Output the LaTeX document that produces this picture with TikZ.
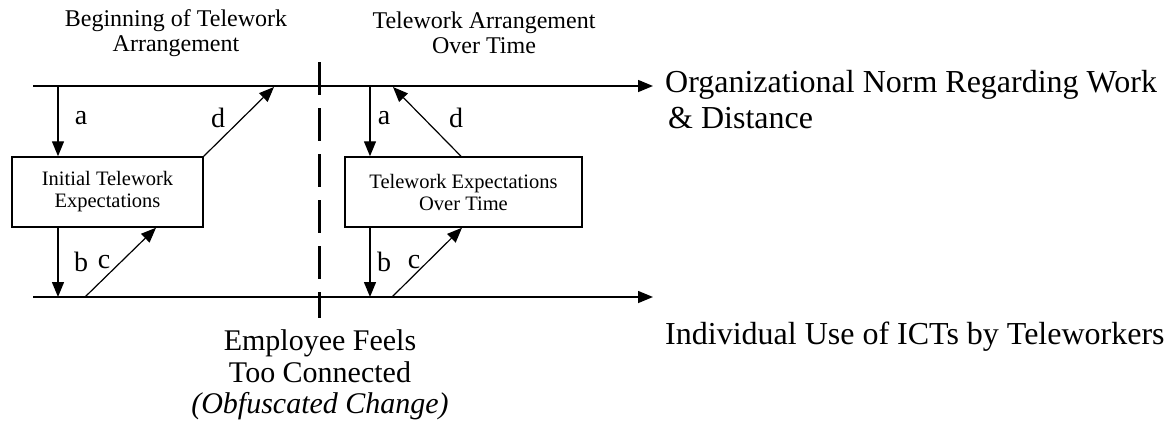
\documentclass[tikz,border=0pt]{standalone}
\usepackage{fontspec}
\setmainfont{Liberation Serif}
\usetikzlibrary{arrows.meta}
\begin{document}
\begin{tikzpicture}[x=1pt,y=-1pt,
  axis/.style={line width=1.5pt,-{Triangle[length=15pt,width=12pt]}},
  arr/.style={line width=1.4pt,-{Triangle[length=15pt,width=12pt]}},
  darr/.style={line width=1.2pt,-{Triangle[length=15pt,width=12pt]}},
  expbox/.style={draw,line width=1.5pt,inner sep=0pt,align=center,
    font=\fontsize{20.5}{22}\selectfont},
  hdr/.style={align=center,font=\fontsize{24}{25}\selectfont},
  lbl/.style={font=\fontsize{28}{30}\selectfont,inner sep=0pt},
  big/.style={font=\fontsize{32}{34}\selectfont,inner sep=0pt,anchor=base west},
  bot/.style={font=\fontsize{30}{32}\selectfont,inner sep=0pt,anchor=base}]
\useasboundingbox (0,0) rectangle (1171,426);
% axes
\coordinate (T0) at (33,86);
\coordinate (T1) at (653,86);
\coordinate (B0) at (33,297);
\coordinate (B1) at (653,297);
\draw[axis] (T0) -- (T1);
\draw[axis] (B0) -- (B1);
% dashed divider
\coordinate (D0) at (319,62);
\coordinate (D1) at (319,318);
\draw[line width=3pt,dash pattern=on 33pt off 13pt] (D0) -- (D1);
% boxes
\node[expbox,minimum width=191pt,minimum height=70pt] (boxL) at (107.5,192)
  {Initial Telework\\Expectations};
\node[expbox,minimum width=237pt,minimum height=70pt] (boxR) at (463.5,192)
  {Telework Expectations\\Over Time};
% left connectors
\coordinate (aL) at (58,86);
\coordinate (dL) at (274,87);
\coordinate (bL) at (58,297);
\coordinate (cL) at (85,297);
\draw[arr] (aL) -- (aL|-boxL.north);
\draw[darr] (boxL.north east) -- (dL);
\draw[arr] (bL|-boxL.south) -- (bL);
\draw[darr] (cL) -- (156,0|-boxL.south);
% right connectors
\coordinate (aR) at (370,86);
\coordinate (dR) at (393,87);
\coordinate (dRs) at (461,157);
\coordinate (bR) at (370,297);
\coordinate (cR) at (392,297);
\coordinate (cRe) at (462,227);
\draw[arr] (aR) -- (aR|-boxR.north);
\draw[darr] (dRs|-boxR.north) -- (dR);
\draw[arr] (bR|-boxR.south) -- (bR);
\draw[darr] (cR) -- (cRe|-boxR.south);
% letter labels
\node[lbl] (la1) at (81,118) {a};
\node[lbl] (ld1) at (218,118) {d};
\node[lbl] (lb1) at (81,262) {b};
\node[lbl] (lc1) at (104,262) {c};
\node[lbl] (la2) at (384,118) {a};
\node[lbl] (ld2) at (456,118) {d};
\node[lbl] (lb2) at (384,262) {b};
\node[lbl] (lc2) at (414,262) {c};
% headers
\node[hdr] (h1) at (176,33) {Beginning of Telework\\Arrangement};
\node[hdr] (h2) at (484,33) {Telework Arrangement\\Over Time};
% right labels
\node[big] (org1) at (665,92) {Organizational Norm Regarding Work};
\node[big] (org2) at (668,128) {\& Distance};
\node[big] (ind) at (665,344) {Individual Use of ICTs by Teleworkers};
% bottom label
\node[bot] (e1) at (320,350) {Employee Feels};
\node[bot] (e2) at (320,382) {Too Connected};
\node[bot] (e3) at (320,413) {\itshape (Obfuscated Change)};
\end{tikzpicture}
\end{document}
